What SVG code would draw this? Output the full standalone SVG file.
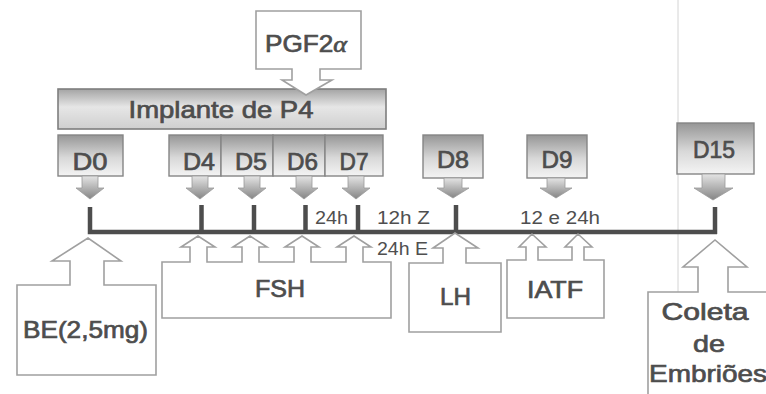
<svg xmlns="http://www.w3.org/2000/svg" width="766" height="394" viewBox="0 0 766 394">
<style>
.t{font-family:"Liberation Sans",Arial,sans-serif;fill:#4d4d4d;stroke:#4d4d4d;stroke-width:0.7px;font-size:24px}
.s{font-family:"Liberation Sans",Arial,sans-serif;fill:#4f4f4f;font-size:17.5px}
.wc{fill:#ffffff;stroke:#a0a0a0;stroke-width:1.6;stroke-linejoin:miter}
.gb{fill:url(#gBox);stroke:#858585;stroke-width:1.4}
.ga{fill:url(#gArr);stroke:#9a9a9a;stroke-width:0.8}
.ln{stroke:#4d4d4d;stroke-width:4.5;fill:none;stroke-linecap:butt}
</style>
<defs>
<linearGradient id="gBox" x1="0" y1="0" x2="0" y2="1">
<stop offset="0" stop-color="#969696"/>
<stop offset="0.55" stop-color="#d8d8d8"/>
<stop offset="1" stop-color="#f4f4f4"/>
</linearGradient>
<linearGradient id="gBar" x1="0" y1="0" x2="0" y2="1">
<stop offset="0" stop-color="#a4a4a4"/>
<stop offset="0.45" stop-color="#e6e6e6"/>
<stop offset="1" stop-color="#cfcfcf"/>
</linearGradient>
<linearGradient id="gArr" x1="0" y1="0" x2="0" y2="1">
<stop offset="0" stop-color="#e4e4e4"/>
<stop offset="1" stop-color="#858585"/>
</linearGradient>
</defs>
<rect width="766" height="394" fill="#ffffff"/>
<line x1="678" y1="0" x2="678" y2="394" stroke="#d4d4d4" stroke-width="1"/>

<g id="implante">
<rect x="58" y="89" width="328" height="40" fill="url(#gBar)" stroke="#7e7e7e" stroke-width="1.6"/>
<text class="t" x="221" y="118" text-anchor="middle" textLength="185" lengthAdjust="spacingAndGlyphs">Implante de P4</text>
</g>

<g id="pgf">
<path class="wc" d="M256,11 H361 V69 H320 V80 H332 L306,95 L282,80 H292 V69 H256 Z"/>
<text class="t" x="306" y="52" text-anchor="middle" textLength="82" lengthAdjust="spacingAndGlyphs">PGF2<tspan font-family="Liberation Serif,serif" font-style="italic">α</tspan></text>
</g>

<g id="d0">
<rect class="gb" x="58" y="135" width="65" height="41"/>
<path class="ga" d="M82,176 H98 V188 H104 L90,199 L76,188 H82 Z"/>
<text class="t" x="90" y="170" text-anchor="middle" textLength="35" lengthAdjust="spacingAndGlyphs">D0</text>
</g>
<g id="d4">
<rect class="gb" x="169" y="135" width="52" height="41"/>
<path class="ga" d="M192,176 H208 V188 H214 L200,199 L186,188 H192 Z"/>
<text class="t" x="199" y="170" text-anchor="middle" textLength="32" lengthAdjust="spacingAndGlyphs">D4</text>
</g>
<g id="d5">
<rect class="gb" x="221" y="135" width="52" height="41"/>
<path class="ga" d="M244,176 H260 V188 H266 L252,199 L238,188 H244 Z"/>
<text class="t" x="251" y="170" text-anchor="middle" textLength="32" lengthAdjust="spacingAndGlyphs">D5</text>
</g>
<g id="d6">
<rect class="gb" x="273" y="135" width="52" height="41"/>
<path class="ga" d="M296,176 H312 V188 H318 L304,199 L290,188 H296 Z"/>
<text class="t" x="302.5" y="170" text-anchor="middle" textLength="31" lengthAdjust="spacingAndGlyphs">D6</text>
</g>
<g id="d7">
<rect class="gb" x="325" y="135" width="58" height="41"/>
<path class="ga" d="M348,176 H364 V188 H370 L356,199 L342,188 H348 Z"/>
<text class="t" x="354" y="170" text-anchor="middle" textLength="29" lengthAdjust="spacingAndGlyphs">D7</text>
</g>
<g id="d8">
<rect class="gb" x="423" y="135" width="60" height="43"/>
<path class="ga" d="M444,178 H462 V188 H469 L453,198 L437,188 H444 Z"/>
<text class="t" x="453" y="168" text-anchor="middle" textLength="32" lengthAdjust="spacingAndGlyphs">D8</text>
</g>
<g id="d9">
<rect class="gb" x="527" y="135" width="60" height="43"/>
<path class="ga" d="M547,178 H565 V188 H572 L556,198 L540,188 H547 Z"/>
<text class="t" x="557" y="168" text-anchor="middle" textLength="31" lengthAdjust="spacingAndGlyphs">D9</text>
</g>
<g id="d15">
<rect class="gb" x="677" y="123" width="77" height="51"/>
<path class="ga" d="M702,174 H725 V188 H733 L713,200 L694,188 H702 Z"/>
<text class="t" x="714" y="158" text-anchor="middle" textLength="42" lengthAdjust="spacingAndGlyphs">D15</text>
</g>

<g id="connectors">
<path class="ln" d="M90,207 V232 H717"/>
<line class="ln" x1="201.5" y1="205" x2="201.5" y2="232"/>
<line class="ln" x1="254" y1="205" x2="254" y2="232"/>
<line class="ln" x1="305.5" y1="205" x2="305.5" y2="232"/>
<line class="ln" x1="358" y1="205" x2="358" y2="232"/>
<line class="ln" x1="456" y1="205" x2="456" y2="232"/>
<line class="ln" x1="715" y1="207" x2="715" y2="234"/>
</g>

<g id="labels">
<text class="s" x="331.5" y="224" text-anchor="middle" textLength="33" lengthAdjust="spacingAndGlyphs">24h</text>
<text class="s" x="377" y="224" textLength="53" lengthAdjust="spacingAndGlyphs">12h Z</text>
<text class="s" x="377" y="255" textLength="51" lengthAdjust="spacingAndGlyphs">24h E</text>
<text class="s" x="560" y="224" text-anchor="middle" textLength="80" lengthAdjust="spacingAndGlyphs">12 e 24h</text>
</g>

<g id="be">
<path class="wc" d="M17,285 H70 V261 H52 L88,238 L121,261 H104 V285 H156 V375 H17 Z"/>
<text class="t" x="85.5" y="338" text-anchor="middle" textLength="125" lengthAdjust="spacingAndGlyphs">BE(2,5mg)</text>
</g>

<g id="fsh">
<path class="wc" d="M162,262 H190 V247 H181 L198,236 L215,247 H207 V262 H242 V247 H233 L250,236 L267,247 H259 V262 H294 V247 H285 L302,236 L319,247 H311 V262 H346 V247 H337 L354,236 L371,247 H363 V262 H391 V318 H162 Z"/>
<text class="t" x="280" y="297" text-anchor="middle" textLength="50" lengthAdjust="spacingAndGlyphs">FSH</text>
</g>

<g id="lh">
<path class="wc" d="M409,263 H443 V248 H433 L455,233 L478,248 H466 V263 H501 V332 H409 Z"/>
<text class="t" x="455.5" y="305" text-anchor="middle" textLength="31" lengthAdjust="spacingAndGlyphs">LH</text>
</g>

<g id="iatf">
<path class="wc" d="M507,260 H526 V247 H519 L532,234 L546,247 H538 V260 H572 V247 H565 L578,234 L592,247 H584 V260 H604 V318 H507 Z"/>
<text class="t" x="555" y="298" text-anchor="middle" textLength="56" lengthAdjust="spacingAndGlyphs">IATF</text>
</g>

<g id="coleta">
<path class="wc" d="M648,292 H698 V267 H683 L715,240 L747,267 H728 V292 H790 V400 H648 Z"/>
<text class="t" x="705" y="320" text-anchor="middle" textLength="87" lengthAdjust="spacingAndGlyphs">Coleta</text>
<text class="t" x="709" y="352" text-anchor="middle" textLength="32" lengthAdjust="spacingAndGlyphs">de</text>
<text class="t" x="649" y="382" textLength="118" lengthAdjust="spacingAndGlyphs">Embriões</text>
</g>
</svg>
